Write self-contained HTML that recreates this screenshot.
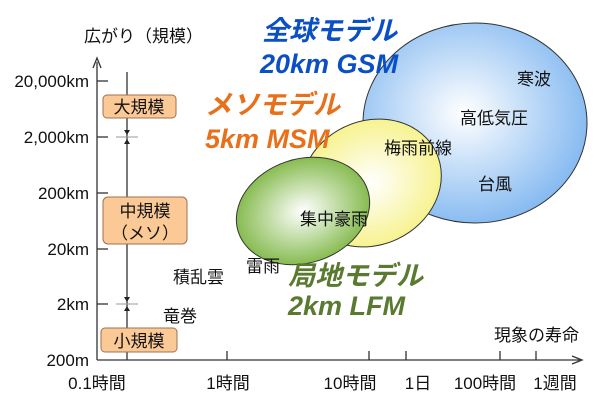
<!DOCTYPE html>
<html><head><meta charset="utf-8"><style>
html,body{margin:0;padding:0;background:#fff;width:600px;height:410px;overflow:hidden}
text{font-family:"Liberation Sans","Noto Sans CJK JP",sans-serif}
</style></head><body>
<svg width="600" height="410" viewBox="0 0 600 410" xmlns="http://www.w3.org/2000/svg">
<defs>
<radialGradient id="gb" cx="0.45" cy="0.45" r="0.6"><stop offset="0" stop-color="#fff"/><stop offset="1" stop-color="#7fb6f0"/></radialGradient>
<radialGradient id="gy" cx="0.5" cy="0.5" r="0.6"><stop offset="0" stop-color="#fff"/><stop offset="1" stop-color="#f5f07a"/></radialGradient>
<radialGradient id="gg" cx="0.5" cy="0.5" r="0.6"><stop offset="0" stop-color="#fff"/><stop offset="1" stop-color="#6fae2e"/></radialGradient>
</defs>
<g fill="none" stroke="#333" stroke-width="1.3">
<line x1="97" y1="62" x2="97" y2="360"/>
<polyline points="93,68 97,58 101,68"/>
<line x1="97" y1="360" x2="580" y2="360"/>
<polyline points="572,356 582,360 572,364"/>
<line x1="97" y1="81" x2="108" y2="81"/><line x1="97" y1="137" x2="108" y2="137"/><line x1="97" y1="193" x2="108" y2="193"/><line x1="97" y1="249" x2="108" y2="249"/><line x1="97" y1="304" x2="108" y2="304"/>
<line x1="127" y1="72" x2="127" y2="360"/>
<line x1="227" y1="351" x2="227" y2="360"/><line x1="369" y1="351" x2="369" y2="360"/><line x1="406" y1="351" x2="406" y2="360"/><line x1="500" y1="351" x2="500" y2="360"/><line x1="536" y1="351" x2="536" y2="360"/>
</g>
<g stroke="#999" stroke-width="1"><line x1="116" y1="137" x2="138" y2="137"/><line x1="116" y1="304" x2="138" y2="304"/></g>
<g fill="#222"><polygon points="124,130 130,130 127,135"/><polygon points="124,144 130,144 127,139"/><polygon points="124,297 130,297 127,302"/><polygon points="124,311 130,311 127,306"/></g>
<ellipse cx="475" cy="123" rx="112" ry="100" fill="url(#gb)" stroke="#333" stroke-width="1"/>
<ellipse cx="371" cy="183" rx="72" ry="62" transform="rotate(-25 371 183)" fill="url(#gy)" stroke="#333" stroke-width="1"/>
<ellipse cx="303" cy="211" rx="68" ry="52" transform="rotate(-18 303 211)" fill="url(#gg)" stroke="#333" stroke-width="1"/>
<g fill="#fbc996" stroke="#a07050" stroke-width="1">
<rect x="103" y="95" width="73" height="23" rx="4"/>
<rect x="103" y="197" width="84" height="47" rx="5"/>
<rect x="101" y="328" width="76" height="24" rx="4"/>
</g>
<g font-size="17" fill="#111">
<text x="139" y="113" text-anchor="middle">大規模</text>
<text x="145" y="217" text-anchor="middle">中規模</text>
<text x="145" y="239" text-anchor="middle">（メソ）</text>
<text x="139" y="347" text-anchor="middle">小規模</text>
<text x="84" y="42">広がり（規模）</text>
<text x="494" y="341">現象の寿命</text>
</g>
<g font-size="17" fill="#111" text-anchor="end">
<text x="89" y="87">20,000km</text><text x="89" y="143">2,000km</text><text x="89" y="199">200km</text><text x="89" y="255">20km</text><text x="89" y="310">2km</text><text x="89" y="366">200m</text>
</g>
<g font-size="17" fill="#111" text-anchor="middle">
<text x="97" y="389">0.1時間</text><text x="228" y="389">1時間</text><text x="350" y="389">10時間</text><text x="418" y="389">1日</text><text x="485" y="389">100時間</text><text x="555" y="389">1週間</text>
</g>
<g font-size="17" fill="#111">
<text x="173" y="283">積乱雲</text><text x="163" y="322">竜巻</text><text x="246" y="272">雷雨</text>
<text x="300" y="225">集中豪雨</text><text x="384" y="154">梅雨前線</text>
<text x="460" y="124">高低気圧</text><text x="517" y="85">寒波</text><text x="478" y="190">台風</text>
</g>
<g font-weight="bold" font-style="italic" font-size="27">
<text x="262" y="40" fill="#0b4fc4">全球モデル</text>
<text x="260" y="73" fill="#0b4fc4">20km GSM</text>
<text x="205" y="114" fill="#e8701a">メソモデル</text>
<text x="205" y="148" fill="#e8701a">5km MSM</text>
<text x="288" y="285" fill="#5a7a30">局地モデル</text>
<text x="288" y="315" fill="#5a7a30">2km LFM</text>
</g>
</svg>
</body></html>
